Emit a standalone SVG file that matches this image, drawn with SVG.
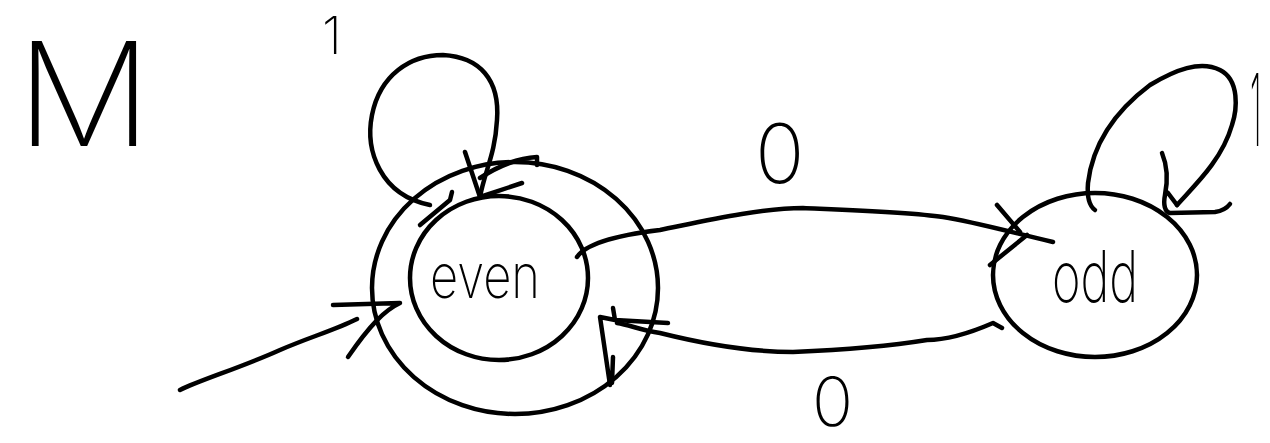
<svg xmlns="http://www.w3.org/2000/svg" width="1270" height="443" viewBox="0 0 1270 443">
  <style>
    .ink { fill: none; stroke: #000; stroke-width: 4.5; stroke-linecap: round; stroke-linejoin: round; }
    .lbl { font-family: Inter, Lato, "DejaVu Sans", sans-serif; font-weight: 200; fill: #000; }
  </style>
  <rect width="1270" height="443" fill="#fff"/>

  <text class="lbl" x="16" y="146" font-size="145" textLength="136" lengthAdjust="spacingAndGlyphs">M</text>

  <g id="connectors">
    <!-- start arrow -->
    <path class="ink" d="M180,390 C200,380 240,368 280,350 C310,337 335,330 357,319"/>
    <path class="ink" d="M333,305 L400,303 C385,310 370,325 348,357"/>
    <!-- self loop on even (1) -->
    <path class="ink" d="M430,205 C380,195 365,150 372,115 C380,75 410,55 443,55 C480,57 500,80 497,120 C495,155 485,170 480,197"/>
    <path class="ink" d="M465,152 L480,197 L522,183"/>
    <path class="ink" d="M480,178 C500,165 520,158 537,157 L537,165"/>
    <path class="ink" d="M420,225 L450,200 L452,192"/>
    <!-- even -> odd (0) -->
    <path class="ink" d="M577,257 C585,245 610,236 660,230 C700,222 760,208 803,208 C850,210 910,212 943,217 C975,222 1010,232 1053,242"/>
    <path class="ink" d="M997,205 L1020,232 M990,265 L1027,235"/>
    <!-- odd -> even (0) -->
    <path class="ink" d="M1002,328 L993,323 C970,333 945,340 927,340 C890,346 840,350 793,352 C750,352 700,343 660,333 C640,330 630,325 617,323"/>
    <path class="ink" d="M613,308 L615,320 L668,323 M615,320 L600,317 L610,385 M613,357 L612,383"/>
    <!-- self loop on odd (1) -->
    <path class="ink" d="M1095,210 C1088,205 1087,195 1088,183 C1092,150 1110,115 1150,85 C1175,70 1200,60 1220,70 C1240,80 1237,110 1232,125 C1222,160 1195,185 1177,205"/>
    <path class="ink" d="M1162,153 C1167,165 1168,180 1165,195 C1163,205 1165,212 1170,213 L1215,212 C1222,211 1227,208 1230,204 M1168,193 L1177,205"/>
  </g>

  <g id="node-even">
    <ellipse class="ink" cx="515" cy="288" rx="143" ry="126"/>
    <ellipse class="ink" cx="499" cy="278" rx="89" ry="82"/>
    <text class="lbl" x="430" y="298" font-size="62" textLength="110" lengthAdjust="spacingAndGlyphs">even</text>
  </g>

  <g id="node-odd">
    <ellipse class="ink" cx="1095" cy="275" rx="102" ry="82"/>
    <text class="lbl" x="1052" y="302" font-size="72" textLength="86" lengthAdjust="spacingAndGlyphs">odd</text>
  </g>

  <g id="labels">
    <text class="lbl" x="322" y="54" font-size="52">1</text>
    <text class="lbl" x="755" y="183" font-size="82">0</text>
    <text class="lbl" x="812" y="426" font-size="68">0</text>
    <text class="lbl" transform="translate(1250,146) scale(0.3,1)" x="0" y="0" font-size="100">1</text>
  </g>
</svg>
